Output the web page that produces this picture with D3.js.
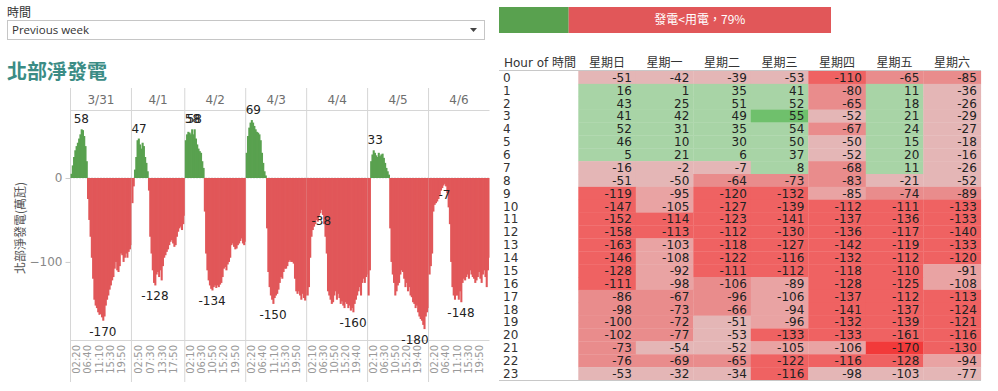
<!DOCTYPE html>
<html>
<head>
<meta charset="utf-8">
<script src="https://cdn.jsdelivr.net/npm/d3@7"></script>
<style>
  body { margin: 0; background: #fff; }
  svg text { font-family: "DejaVu Sans", "Noto Sans CJK TC", sans-serif; }
  .cjk { font-family: "Noto Sans CJK TC", "DejaVu Sans", sans-serif !important; }
</style>
</head>
<body>
<svg id="chart" width="998" height="391"></svg>
<script>
// ---- data -----------------------------------------------------------------
const dates = ['3/31', '4/1', '4/2', '4/3', '4/4', '4/5', '4/6'];
const weekdays = ['星期日', '星期一', '星期二', '星期三', '星期四', '星期五', '星期六'];

// net generation (萬瓩), one value per half hour
const net0331 = [5, 15, 25, 33, 38, 42, 47, 52, 58, 57, 50, 38, 20, -25, -50, -70, -95, -120, -145, -152,
  -155, -160, -163, -162, -166, -170, -165, -152, -145, -140, -133, -128, -122, -118, -108, -100, -110, -112,
  -105, -90, -92, -100, -95, -90, -95, -88, -85, -80];
const net0401 = [-30, -10, 10, 25, 45, 47, 40, 35, 42, 38, 25, 18, 8, -15, -70, -90, -110, -125, -128, -115,
  -112, -118, -110, -122, -105, -95, -92, -88, -85, -80, -76, -74, -78, -82, -80, -70, -64, -60, -58, -62, -55, -45];
const net0402 = [45, 52, 55, 54, 52, 58, 52, 58, 47, 40, 35, 32, 30, 20, 12, -40, -90, -110, -122, -128, -132,
  -134, -130, -128, -131, -128, -130, -127, -125, -118, -108, -106, -110, -103, -100, -95, -80, -78, -82, -85,
  -84, -80, -78, -75, -72, -78, -80, -76];
const net0403 = [30, 50, 60, 66, 69, 66, 62, 58, 55, 54, 52, 45, 30, 18, 8, 3, -60, -112, -130, -140, -145, -150,
  -143, -140, -138, -133, -125, -118, -120, -112, -108, -108, -105, -100, -98, -100, -100, -102, -120, -135,
  -138, -135, -140, -145, -138, -143, -146, -140];
const net0404 = [-140, -130, -95, -70, -62, -58, -55, -50, -52, -45, -42, -38, -44, -55, -70, -90, -135, -140,
  -145, -150, -148, -140, -135, -145, -138, -143, -150, -147, -152, -155, -148, -150, -155, -152, -158, -155,
  -160, -150, -145, -140, -135, -130, -140, -125, -120, -125, -118, -115];
const net0405 = [-140, -110, 20, 28, 33, 30, 27, 25, 30, 26, 28, 29, 24, 18, 12, 8, 4, -60, -100, -115, -125,
  -140, -135, -128, -125, -115, -110, -112, -120, -130, -125, -135, -130, -140, -142, -148, -150, -155, -152,
  -160, -165, -168, -170, -175, -180, -165, -160, -155];
const net0406 = [-115, -105, -90, -40, -32, -30, -28, -25, -20, -15, -12, -9, -7, -10, -18, -35, -55, -100, -130,
  -140, -145, -140, -140, -145, -135, -148, -125, -120, -122, -118, -115, -120, -110, -115, -118, -120, -125,
  -122, -118, -112, -120, -125, -115, -110, -118, -130, -110, -95];
const netByDay = [net0331, net0401, net0402, net0403, net0404, net0405, net0406];

// half hours with no data on 4/1
const missing0401 = ['10:00', '10:30', '11:00', '22:00', '22:30', '23:00'];
const missingByDay = [[], missing0401, [], [], [], [], []];

const tickLabels = [
  ['02:20', '06:40', '11:10', '15:30', '19:50'],
  ['02:50', '07:30', '13:30', '17:50'],
  ['02:10', '06:30', '10:50', '15:20', '19:50'],
  ['02:20', '06:40', '11:10', '15:30', '19:50'],
  ['02:10', '06:30', '10:50', '15:20', '19:40'],
  ['02:10', '06:30', '10:50', '15:20', '19:40'],
  ['02:20', '06:40', '11:10', '15:30', '19:50'],
];
const yTicks = [0, -100];

// hourly net generation by weekday (rows: hour 0..23, columns: 星期日..星期六)
const hourlyNet = [
  [-51, -42, -39, -53, -110, -65, -85],
  [16, 1, 35, 41, -80, 11, -36],
  [43, 25, 51, 52, -65, 18, -26],
  [41, 42, 49, 55, -52, 21, -29],
  [52, 31, 35, 54, -67, 24, -27],
  [46, 10, 30, 50, -50, 15, -18],
  [5, 21, 6, 37, -52, 20, -16],
  [-16, -2, -7, 8, -68, 11, -26],
  [-51, -50, -64, -73, -83, -21, -52],
  [-119, -95, -120, -132, -85, -74, -89],
  [-147, -105, -127, -139, -112, -111, -133],
  [-152, -114, -123, -141, -137, -136, -133],
  [-158, -113, -112, -130, -136, -117, -140],
  [-163, -103, -118, -127, -142, -119, -133],
  [-146, -108, -122, -116, -132, -112, -120],
  [-128, -92, -111, -112, -118, -110, -91],
  [-111, -98, -106, -89, -128, -125, -108],
  [-86, -67, -96, -106, -137, -112, -113],
  [-98, -73, -66, -94, -141, -137, -124],
  [-100, -72, -51, -96, -132, -139, -121],
  [-102, -77, -53, -133, -133, -161, -116],
  [-73, -54, -52, -105, -106, -170, -130],
  [-76, -69, -65, -122, -116, -128, -94],
  [-53, -32, -34, -116, -98, -103, -77],
];
// colour band of each cell, one letter per weekday
const hourlyLevel = [
  'LLLLRMM', 'GGGGMGL', 'GGGGMGL', 'GGGHLGL', 'GGGGMGL', 'GGGGLGL', 'GGGGLGL', 'LLLGMGL',
  'LLMMMLL', 'RKRRKMM', 'RKRRRRR', 'RRRRRRR', 'RRRRRRR', 'RKRRRRR', 'RKRRRRR', 'RKRRRRK',
  'RKMKRRK', 'MMMKRRR', 'MMMKRRR', 'MMLKRRR', 'MMLRRRR', 'MLLKKXR', 'MMMRRRK', 'LLLRLLL',
];

const shareKeys = ['發電>用電', '發電<用電'];
const shareValues = [21, 79];

// ---- drawing --------------------------------------------------------------
const svg = d3.select('#chart');
const green = '#59a14f';
const red = '#e15759';

// filter + title
svg.append('text').attr('class', 'cjk').attr('x', 7).attr('y', 17)
  .attr('font-size', 12).attr('fill', '#333').text('時間');
svg.append('rect').attr('x', 7.5).attr('y', 20.5).attr('width', 477).attr('height', 19)
  .attr('fill', '#fff').attr('stroke', '#c6c6c6');
svg.append('text').attr('x', 12).attr('y', 34).attr('font-size', 11.5)
  .style('font-family', '"Open Sans", sans-serif').attr('fill', '#333').text('Previous week');
svg.append('path').attr('d', 'M470,28L477,28L473.5,32Z').attr('fill', '#444');
svg.append('text').attr('class', 'cjk').attr('x', 7).attr('y', 79)
  .attr('font-size', 20).attr('font-weight', 'bold').attr('fill', '#3b8c85').text('北部淨發電');

// ---- left chart: net generation by 10-min, one pane per day
const pad = (n) => String(n).padStart(2, '0');
const halfHours = d3.range(48).map((i) => `${pad(Math.floor(i / 2))}:${i % 2 ? '30' : '00'}`);
const toMin = (t) => +t.slice(0, 2) * 60 + +t.slice(3, 5);

let offset = 0;
const days = dates.map((date, i) => {
  const slots = halfHours.filter((t) => !missingByDay[i].includes(t));
  const d = {
    date, slots, values: netByDay[i], ticks: tickLabels[i], offset,
  };
  offset += d.values.length;
  return d;
});

const x = d3.scaleLinear().domain([0, offset]).range([70.5, 489.5]);
const y = d3.scaleLinear().domain([-193, 81]).range([340, 110]);

const plot = svg.append('g');

// pane separators and frame
plot.selectAll('line.sep')
  .data(days)
  .join('line')
  .attr('class', 'sep')
  .attr('x1', (d) => x(d.offset))
  .attr('x2', (d) => x(d.offset))
  .attr('y1', 88)
  .attr('y2', 382)
  .attr('stroke', '#d6d6d6');
[110.5, 340.5].forEach((yy) => {
  plot.append('line').attr('x1', 70.5).attr('x2', 489.5).attr('y1', yy).attr('y2', yy)
    .attr('stroke', '#d6d6d6');
});
plot.append('line').attr('x1', 70.5).attr('x2', 489.5).attr('y1', y(0)).attr('y2', y(0))
  .attr('stroke', '#bbb').attr('stroke-dasharray', '1,2');

// y axis
const yAxis = plot.append('g').attr('transform', 'translate(70.5,0)')
  .call(d3.axisLeft(y).tickValues(yTicks).tickSize(5).tickPadding(3).tickFormat(d3.format('d')));
yAxis.select('.domain').remove();
yAxis.selectAll('line').attr('stroke', '#ccc');
yAxis.selectAll('text').attr('font-size', 12).attr('fill', '#888')
  .style('font-family', '"DejaVu Sans", sans-serif');
svg.append('text').attr('class', 'cjk')
  .attr('transform', 'translate(21,228) rotate(-90)')
  .attr('text-anchor', 'middle').attr('dy', '0.35em')
  .attr('font-size', 12).attr('fill', '#555').text('北部淨發電(萬瓩)');

const pane = plot.selectAll('g.pane')
  .data(days)
  .join('g')
  .attr('class', 'pane');

// date header
pane.append('text')
  .attr('x', (d) => x(d.offset + d.values.length / 2))
  .attr('y', 104)
  .attr('text-anchor', 'middle')
  .attr('font-size', 12)
  .attr('fill', '#6e6e6e')
  .text((d) => d.date);

// bars; each one overlaps the next a little so no hairline seams show
pane.each(function drawBars(d) {
  const last = d.values.length - 1;
  d3.select(this).selectAll('rect')
    .data(d.values)
    .join('rect')
    .attr('x', (v, i) => x(d.offset + i))
    .attr('width', (v, i) => x(d.offset + i + 1) - x(d.offset + i) + (i < last ? 0.8 : 0))
    .attr('y', (v) => (v >= 0 ? y(v) : y(0)))
    .attr('height', (v) => Math.abs(y(v) - y(0)))
    .attr('fill', (v) => (v >= 0 ? green : red));
});

// time tick labels
pane.each(function drawTicks(d) {
  const pos = (t) => {
    const m = toMin(t) + 5;
    const idx = d.slots.findIndex((s) => toMin(s) <= m && m < toMin(s) + 30);
    return d.offset + idx + (m - toMin(d.slots[idx])) / 30;
  };
  d3.select(this).selectAll('text.tick')
    .data(d.ticks)
    .join('text')
    .attr('class', 'tick')
    .attr('transform', (t) => `translate(${x(pos(t))},345) rotate(-90)`)
    .attr('text-anchor', 'end')
    .attr('dy', '0.35em')
    .attr('font-size', 10)
    .attr('fill', '#999')
    .text((t) => t);
});

// max / min labels on every pane
pane.each(function drawLabels(d) {
  const hi = d3.max(d.values);
  const lo = d3.min(d.values);
  const marks = [];
  d.values.forEach((v, i) => { if (v === hi) marks.push({ v, i }); });
  marks.push({ v: lo, i: d.values.indexOf(lo) });
  const x0 = x(d.offset);
  const x1 = x(d.offset + d.values.length);
  d3.select(this).selectAll('text.lbl')
    .data(marks)
    .join('text')
    .attr('class', 'lbl')
    .attr('text-anchor', 'middle')
    .attr('font-size', 12)
    .attr('fill', '#222')
    .attr('y', (m) => (m.v >= 0 ? y(m.v) - 6 : y(m.v) + 15))
    .text((m) => m.v)
    .attr('x', function placeX(m) {
      const w = this.getComputedTextLength();
      const cx = x(d.offset + m.i + 0.5);
      return Math.max(x0 + w / 2, Math.min(x1 - w / 2, cx));
    });
});

// ---- top bar: share of time generation < consumption
const bx = d3.scaleLinear().domain([0, d3.sum(shareValues)]).range([499, 831]);
const stack = [];
shareValues.reduce((acc, v, i) => {
  stack.push({ key: shareKeys[i], value: v, start: acc });
  return acc + v;
}, 0);
const share = svg.append('g');
share.selectAll('rect')
  .data(stack)
  .join('rect')
  .attr('x', (d) => bx(d.start))
  .attr('width', (d) => bx(d.start + d.value) - bx(d.start))
  .attr('y', 7)
  .attr('height', 26)
  .attr('fill', (d, i) => (i === 0 ? green : red));
share.selectAll('text')
  .data(stack.filter((d) => bx(d.start + d.value) - bx(d.start) > 120))
  .join('text')
  .attr('class', 'cjk')
  .attr('x', (d) => bx(d.start + d.value / 2))
  .attr('y', 20)
  .attr('dy', '0.35em')
  .attr('text-anchor', 'middle')
  .attr('font-size', 12)
  .attr('fill', '#fff')
  .text((d) => `${d.key}，${d.value}%`);

// ---- heat table: hour x weekday
const hours = d3.range(24);
const col = d3.scaleBand().domain(weekdays).range([578.3, 980.8]);
const row = d3.scaleBand().domain(hours).range([71, 380]);
const levelColor = d3.scaleOrdinal()
  .domain(['G', 'H', 'L', 'K', 'M', 'R', 'X'])
  .range(['#a8d4a6', '#6fc06c', '#e4b6b6', '#e9a3a3', '#e98c8c', '#ef6262', '#f23a3a']);

const table = svg.append('g');
const cells = [];
hours.forEach((h) => {
  weekdays.forEach((w, j) => {
    cells.push({
      h, w, v: hourlyNet[h][j], level: hourlyLevel[h][j],
    });
  });
});

table.selectAll('rect')
  .data(cells)
  .join('rect')
  .attr('x', (d) => col(d.w))
  .attr('y', (d) => row(d.h))
  .attr('width', col.bandwidth() + 0.3)
  .attr('height', row.bandwidth() + 0.3)
  .attr('fill', (d) => levelColor(d.level));

table.selectAll('text.val')
  .data(cells)
  .join('text')
  .attr('class', 'val')
  .attr('x', (d) => col(d.w) + col.bandwidth() - 4)
  .attr('y', (d) => row(d.h) + row.bandwidth() / 2)
  .attr('dy', '0.36em')
  .attr('text-anchor', 'end')
  .attr('font-size', 12)
  .attr('fill', '#222')
  .text((d) => d.v);

table.selectAll('text.hour')
  .data(hours)
  .join('text')
  .attr('class', 'hour')
  .attr('x', 503)
  .attr('y', (h) => row(h) + row.bandwidth() / 2)
  .attr('dy', '0.36em')
  .attr('font-size', 12)
  .attr('fill', '#333')
  .text((h) => h);

table.append('text').attr('x', 504).attr('y', 67).attr('font-size', 12).attr('fill', '#333')
  .text('Hour of 時間');
table.selectAll('text.day')
  .data(weekdays)
  .join('text')
  .attr('class', 'day cjk')
  .attr('x', (w) => col(w) + col.bandwidth() / 2)
  .attr('y', 67)
  .attr('text-anchor', 'middle')
  .attr('font-size', 12)
  .attr('fill', '#333')
  .text((w) => w);

[70.5, 380.5].forEach((yy) => {
  table.append('line').attr('x1', 499).attr('x2', 981).attr('y1', yy).attr('y2', yy)
    .attr('stroke', '#c8c8c8');
});
</script>
</body>
</html>
